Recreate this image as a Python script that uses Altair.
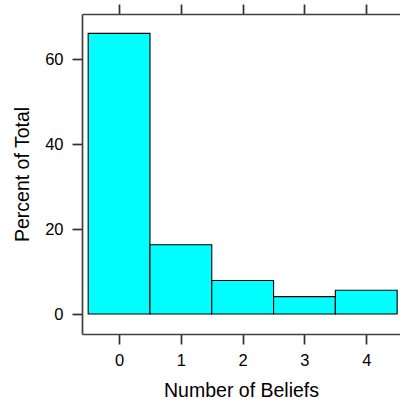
import altair as alt
import pandas as pd

# Histogram of number of beliefs held (percent of respondents)
beliefs = [0, 1, 2, 3, 4]
percent = [66.05, 16.3, 7.9, 4.1, 5.6]
y_ticks = [0, 20, 40, 60]

df = pd.DataFrame({"beliefs": beliefs, "percent": percent})
df["lo"] = df["beliefs"] - 0.5
df["hi"] = df["beliefs"] + 0.5

font = "Liberation Sans"
xscale = alt.Scale(domain=[-0.6, 4.546], nice=False, zero=False)
yscale = alt.Scale(domain=[-4.7, 70.6], nice=False, zero=False)

bars = alt.Chart(df).mark_bar(
    color="#00FFFF", stroke="#000000", strokeWidth=1.1, opacity=1
).encode(
    x=alt.X(
        "lo:Q",
        scale=xscale,
        axis=alt.Axis(
            values=beliefs, orient="bottom", title="Number of Beliefs",
            format="d", labelPadding=8, titlePadding=13
        ),
    ),
    x2="hi:Q",
    y=alt.Y(
        "percent:Q",
        scale=yscale,
        axis=alt.Axis(
            values=y_ticks, orient="left", title="Percent of Total",
            format="d", labelPadding=9, titlePadding=12, labelAngle=0
        ),
    ),
    y2=alt.datum(0),
)

# top axis: ticks only, sharing the x scale
top = alt.Chart(df).mark_rule(opacity=0).encode(
    x=alt.X(
        "beliefs:Q",
        scale=xscale,
        axis=alt.Axis(values=beliefs, orient="top", title=None, labels=False),
    ),
)

chart = (
    alt.layer(bars, top)
    .resolve_axis(x="independent")
    .properties(
        width=318,
        height=320,
        padding={"left": 82, "top": 14, "right": 0, "bottom": 69},
        autosize=alt.AutoSizeParams(type="none"),
        background="white",
    )
    .configure_view(stroke=None)
    .configure_axis(
        grid=False,
        domainColor="#404040",
        domainWidth=1.7,
        tickColor="#303030",
        tickWidth=1.7,
        tickSize=10,
        labelFont=font,
        labelFontSize=16.5,
        labelColor="#000000",
        titleFont=font,
        titleFontSize=19.5,
        titleFontWeight="normal",
        titleColor="#000000",
    )
)

chart.save("out.html", embed_options={"renderer": "svg", "actions": False})
